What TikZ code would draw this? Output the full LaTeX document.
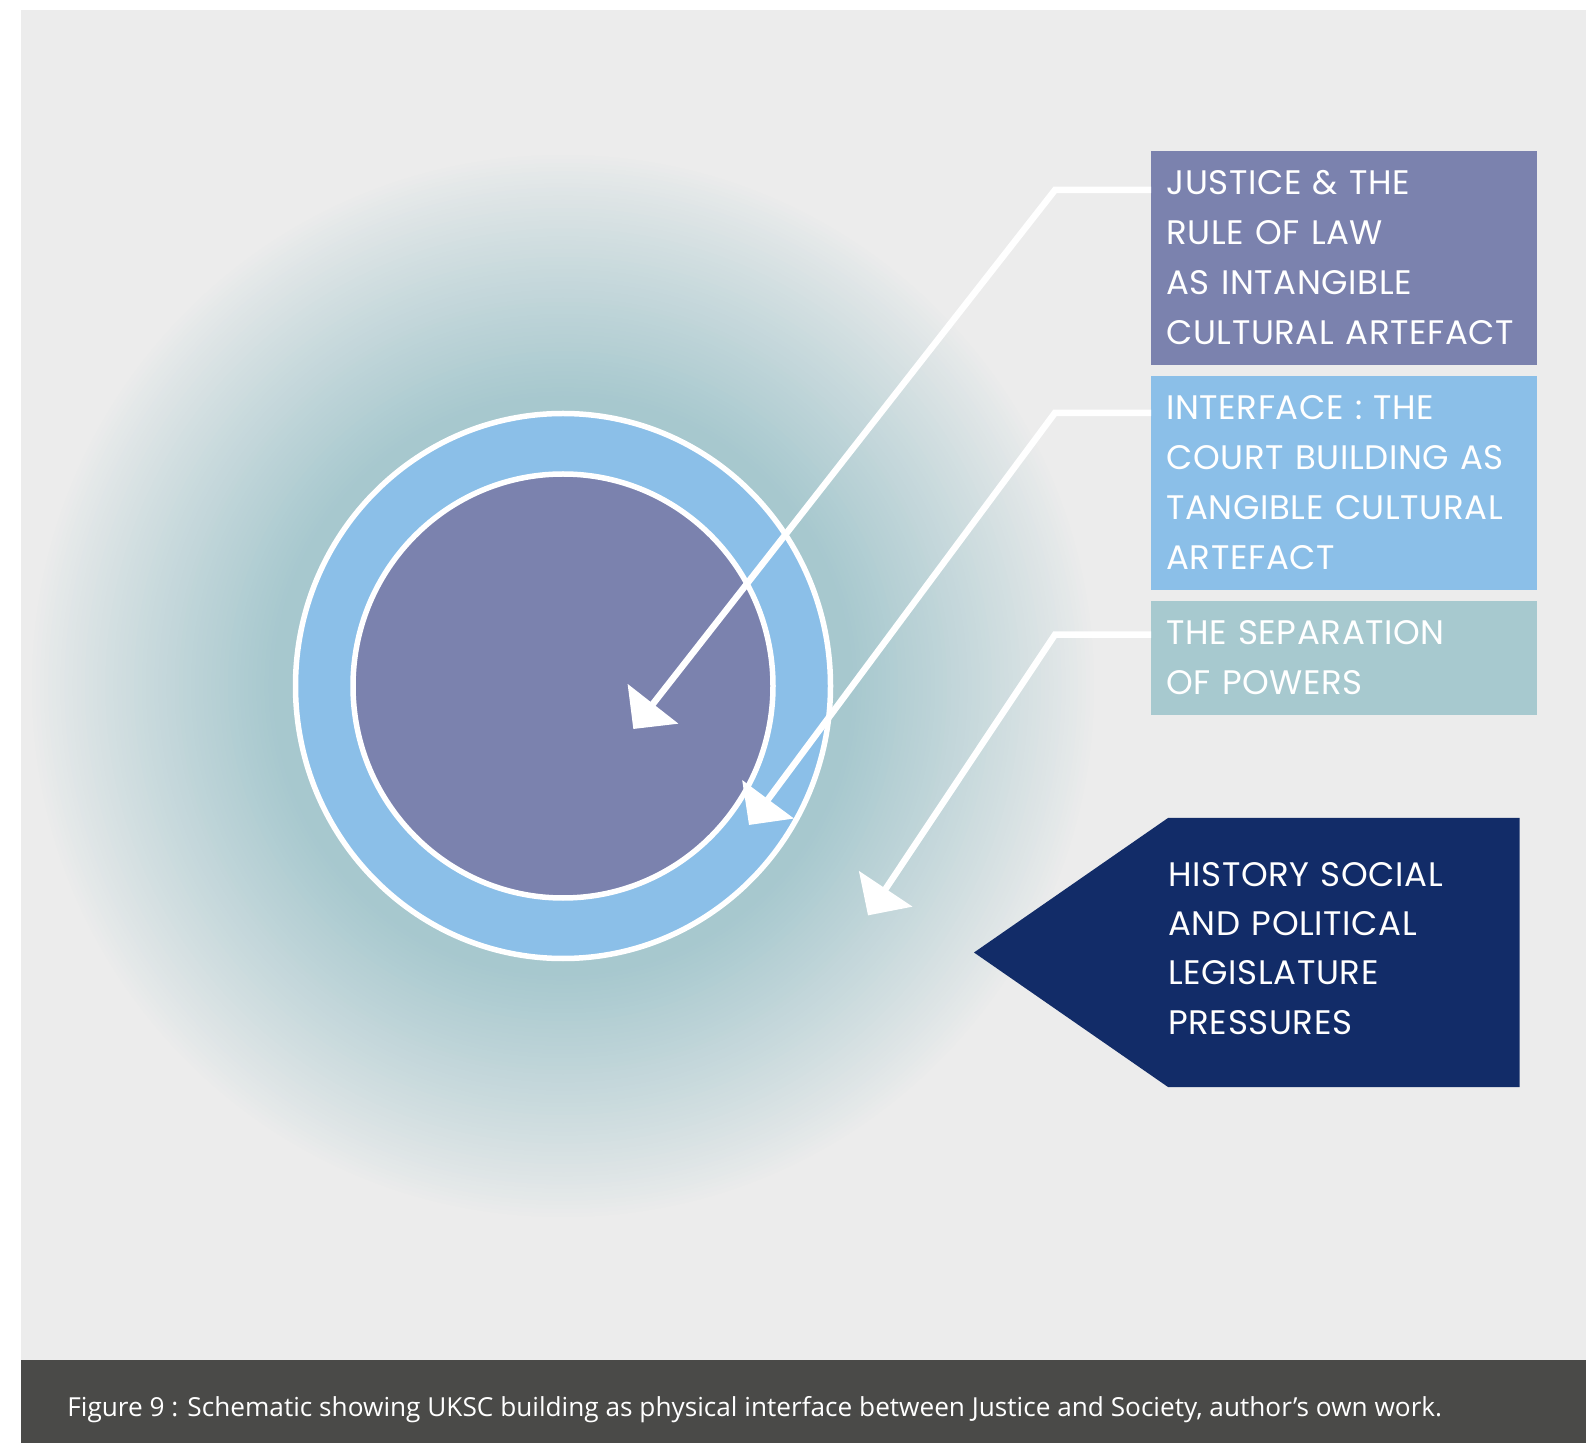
\documentclass[tikz,border=0pt]{standalone}
\usepackage{fontspec}
\newfontfamily\boxfont{Poppins}[LetterSpace=1.8]
\newfontfamily\capfont{Open Sans}
\usetikzlibrary{arrows.meta}

\definecolor{bgc}{HTML}{ECECEC}
\definecolor{glowc}{HTML}{A7C8CE}
\definecolor{justc}{HTML}{7B82AE}
\definecolor{facec}{HTML}{8BBFE8}
\definecolor{sepc}{HTML}{A7C9CF}
\definecolor{histc}{HTML}{122C68}
\definecolor{capc}{HTML}{4A4A48}

\begin{document}
\begin{tikzpicture}[x=0.5pt, y=-0.5pt,
    box/.style={anchor=north west, minimum width=193pt, text width=178pt, inner xsep=7.5pt,
                align=left, text=white, font=\boxfont\fontsize{17}{25}\selectfont},
    ring/.style={draw=white, line width=2.75pt},
    link/.style={draw=white, line width=3.25pt, -{Triangle[length=16pt,width=31.5pt]}}]
\useasboundingbox (0,0) rectangle (1586,1443);
\fill[bgc] (21,10) rectangle (1586,1360);
\fill[capc] (21,1360) rectangle (1586,1443);

% halo: rings of colour from the grey out to the teal core
\foreach \i in {0,...,60}{
    \pgfmathsetmacro\r{535-\i*245/60}
    \pgfmathsetmacro\p{100*(\i/60)^0.9}
    \fill[glowc!\p!bgc] (563,686) circle [radius=\r];
}

% the two rings
\filldraw[ring, fill=facec] (563,686) ellipse [x radius=267.5, y radius=272.5];
\filldraw[ring, fill=justc] (563,686) ellipse [x radius=210, y radius=212];

% legend boxes
\node[box, fill=justc, minimum height=107pt] (just) at (1151,150.3)
    {JUSTICE \& THE\\RULE OF LAW\\AS INTANGIBLE\\CULTURAL ARTEFACT};
\node[box, fill=facec, minimum height=107pt] (face) at (1151,375.3)
    {INTERFACE : THE\\COURT BUILDING AS\\TANGIBLE CULTURAL\\ARTEFACT};
\node[box, fill=sepc, minimum height=57.4pt] (sep) at (1151,600.2)
    {THE SEPARATION\\OF POWERS};

% pressures arrow
\coordinate (histtip) at (974,952.5);
\fill[histc] (histtip) -- (1168,818) -- (1519.5,818) -- (1519.5,1087) -- (1168,1087) -- cycle;
\node[box, minimum width=175.75pt, text width=175.75pt, inner xsep=0pt,
      minimum height=130pt, font=\boxfont\fontsize{17}{24.7}\selectfont] (hist) at (1168,818)
    {HISTORY SOCIAL\\AND POLITICAL\\LEGISLATURE\\PRESSURES};

% connectors
\coordinate (b1) at (1055,190);
\coordinate (b2) at (1055,412.8);
\coordinate (b3) at (1055,634.6);
\coordinate (t1) at (633.3,729);
\coordinate (t2) at (749,825);
\coordinate (t3) at (868,915.4);
\draw[link] (b1 -| just.west) -- (b1) -- (t1);
\draw[link] (b2 -| face.west) -- (b2) -- (t2);
\draw[link] (b3 -| sep.west) -- (b3) -- (t3);

\node[anchor=base west, inner sep=0pt, text=white, font=\capfont\fontsize{13.1}{15}\selectfont] (cap) at (67,1416.7)
    {Figure 9 : Schematic showing UKSC building as physical interface between Justice and Society, author’s own work.};
\end{tikzpicture}
\end{document}
